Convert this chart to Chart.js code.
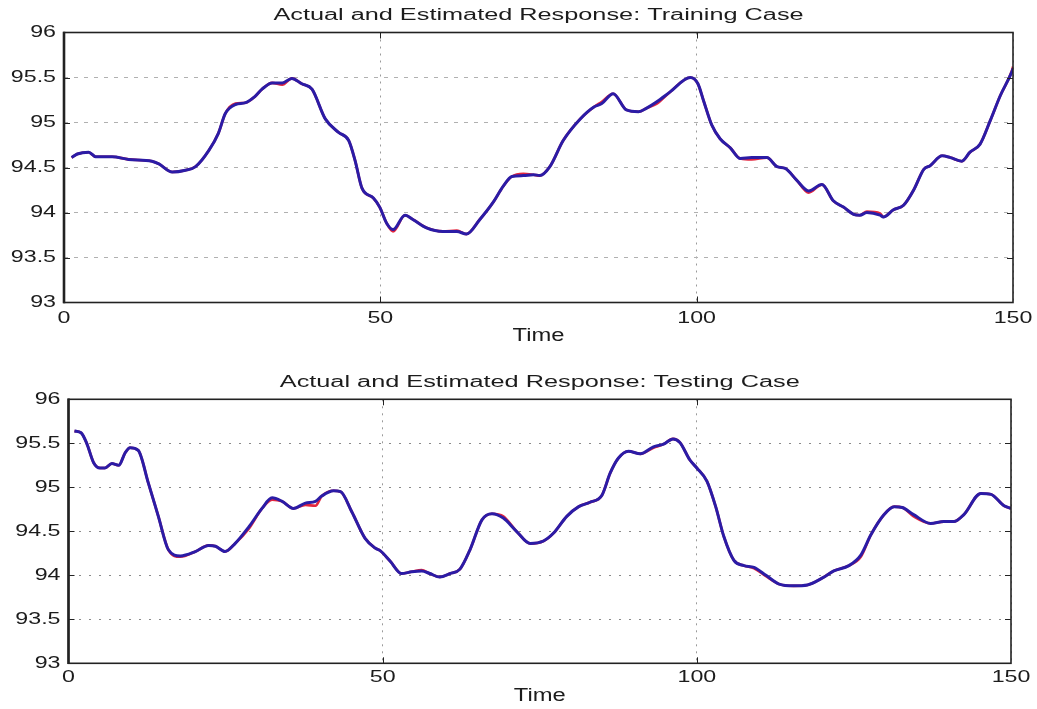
<!DOCTYPE html>
<html>
<head>
<meta charset="utf-8">
<title>Actual and Estimated Response</title>
<script src="https://cdn.jsdelivr.net/npm/chart.js@4.4.1/dist/chart.umd.min.js"></script>
<style>
  html, body { margin: 0; padding: 0; background: #fff; }
  .panel { position: absolute; left: 0; width: 1037px; }
  #top-panel { top: 0; height: 355px; }
  #bottom-panel { top: 355px; height: 354px; }
</style>
</head>
<body>
<div class="panel" id="top-panel"><canvas id="trainChart" width="1037" height="355"></canvas></div>
<div class="panel" id="bottom-panel"><canvas id="testChart" width="1037" height="354"></canvas></div>
<script>
// --- axis ticks ---
const xTicks = [0, 50, 100, 150];
const yTicks = [93, 93.5, 94, 94.5, 95, 95.5, 96];
const yTickLabels = ['93', '93.5', '94', '94.5', '95', '95.5', '96'];

// --- training case ---
const trainTime = [1.2, 2.1, 3.9, 5.0, 7.6, 10.2, 13.9, 15.0, 17.1, 19.2, 20.8, 22.9, 24.4, 25.5, 27.1, 28.7,
  30.2, 31.3, 32.9, 34.5, 36.0, 37.6, 39.2, 41.3, 43.4, 45.0, 46.0, 47.1, 48.9, 49.9, 51.0, 52.0, 53.9, 55.2,
  57.3, 59.9, 62.1, 63.6, 65.7, 67.9, 69.4, 70.8, 72.6, 74.2, 75.2, 76.8, 78.9, 81.6, 83.7, 85.0, 86.8, 88.9,
  90.8, 92.1, 93.7, 95.8, 99.0, 100.2, 101.1, 102.4, 103.7, 105.3, 106.9, 108.7, 111.1, 112.7, 114.0, 115.8,
  117.7, 119.8, 121.6, 123.2, 124.8, 125.8, 126.9, 129.0, 129.5, 131.1, 132.7, 134.3, 135.9, 136.9, 138.8,
  140.1, 141.9, 143.2, 144.8, 146.4, 148.0, 149.8, 150.0];
const trainActual = [94.61, 94.65, 94.67, 94.62, 94.62, 94.59, 94.57, 94.54, 94.45, 94.47, 94.51, 94.69, 94.88, 95.10, 95.21, 95.22,
  95.29, 95.37, 95.44, 95.42, 95.49, 95.43, 95.37, 95.04, 94.89, 94.80, 94.58, 94.27, 94.16, 94.06, 93.88, 93.79, 93.97, 93.92,
  93.83, 93.79, 93.80, 93.76, 93.92, 94.12, 94.29, 94.40, 94.43, 94.42, 94.41, 94.51, 94.80, 95.04, 95.17, 95.23, 95.32, 95.14,
  95.12, 95.16, 95.21, 95.34, 95.50, 95.43, 95.24, 94.97, 94.82, 94.72, 94.60, 94.59, 94.61, 94.51, 94.49, 94.36,
  94.22, 94.31, 94.13, 94.06, 93.98, 93.97, 94.01, 93.99, 93.95, 94.03, 94.08, 94.25, 94.48, 94.52, 94.63,
  94.61, 94.57, 94.67, 94.76, 95.02, 95.30, 95.57, 95.62];
const trainEstimated = [94.61, 94.65, 94.67, 94.62, 94.62, 94.59, 94.57, 94.54, 94.45, 94.47, 94.51, 94.69, 94.88, 95.10, 95.20, 95.22,
  95.29, 95.37, 95.44, 95.44, 95.49, 95.43, 95.37, 95.04, 94.89, 94.80, 94.58, 94.27, 94.16, 94.06, 93.88, 93.81, 93.97, 93.92,
  93.83, 93.79, 93.79, 93.76, 93.92, 94.12, 94.29, 94.40, 94.41, 94.42, 94.41, 94.51, 94.80, 95.04, 95.17, 95.21, 95.32, 95.14,
  95.12, 95.16, 95.23, 95.34, 95.50, 95.43, 95.24, 94.97, 94.82, 94.72, 94.60, 94.61, 94.61, 94.51, 94.49, 94.36,
  94.24, 94.31, 94.13, 94.06, 93.98, 93.97, 94.00, 93.97, 93.95, 94.03, 94.08, 94.25, 94.48, 94.52, 94.63,
  94.61, 94.57, 94.67, 94.76, 95.02, 95.30, 95.56, 95.60];

// --- testing case ---
const testTime = [0.95, 2.0, 2.9, 4.0, 5.0, 5.8, 6.9, 8.0, 9.0, 9.8, 11.1, 12.7, 14.3, 15.9, 17.8, 20.2, 22.3, 23.4,
  24.9, 26.5, 28.7, 30.8, 32.4, 34.0, 35.8, 37.7, 39.3, 40.3, 42.2, 43.3, 45.1, 47.2, 48.8, 49.6, 51.2, 53.0,
  54.6, 56.2, 57.5, 59.1, 60.7, 62.3, 63.9, 65.8, 67.4, 69.2, 71.3, 73.5, 75.6, 77.2, 79.3, 81.2, 83.0, 84.9,
  86.2, 87.5, 89.1, 91.0, 93.1, 94.7, 96.2, 97.3, 98.9, 100.0, 101.6, 103.0, 104.3, 105.9, 107.5, 109.1, 111.0,
  113.1, 115.4, 117.6, 120.0, 121.8, 124.2, 126.1, 127.7, 129.8, 131.4, 132.7, 134.5, 137.2, 139.3, 140.9,
  142.5, 145.2, 146.8, 148.9, 150.0];
const testActual = [95.64, 95.62, 95.50, 95.28, 95.22, 95.22, 95.27, 95.25, 95.39, 95.45, 95.42, 95.05, 94.67, 94.29, 94.21, 94.27, 94.34, 94.33,
  94.27, 94.36, 94.53, 94.76, 94.86, 94.84, 94.76, 94.80, 94.79, 94.90, 94.96, 94.95, 94.72, 94.42, 94.31, 94.28, 94.16, 94.02,
  94.04, 94.06, 94.02, 93.98, 94.02, 94.07, 94.29, 94.63, 94.70, 94.67, 94.50, 94.36, 94.39, 94.48, 94.67, 94.78, 94.83, 94.91,
  95.16, 95.33, 95.41, 95.38, 95.45, 95.49, 95.55, 95.51, 95.31, 95.22, 95.07, 94.78, 94.44, 94.17, 94.11, 94.08, 93.99,
  93.90, 93.88, 93.89, 93.97, 94.05, 94.11, 94.21, 94.46, 94.69, 94.78, 94.77, 94.67, 94.59, 94.61, 94.61,
  94.69, 94.93, 94.92, 94.79, 94.76];
const testEstimated = [95.64, 95.62, 95.50, 95.28, 95.22, 95.22, 95.27, 95.25, 95.39, 95.45, 95.42, 95.05, 94.67, 94.29, 94.22, 94.27, 94.34, 94.33,
  94.27, 94.36, 94.55, 94.76, 94.88, 94.84, 94.76, 94.82, 94.84, 94.90, 94.96, 94.95, 94.72, 94.42, 94.31, 94.28, 94.16, 94.02,
  94.04, 94.05, 94.02, 93.98, 94.02, 94.07, 94.29, 94.63, 94.70, 94.65, 94.50, 94.36, 94.39, 94.48, 94.67, 94.78, 94.83, 94.91,
  95.16, 95.33, 95.41, 95.38, 95.46, 95.49, 95.55, 95.51, 95.31, 95.22, 95.07, 94.78, 94.44, 94.17, 94.11, 94.09, 94.00,
  93.90, 93.88, 93.89, 93.97, 94.05, 94.11, 94.23, 94.46, 94.69, 94.78, 94.77, 94.69, 94.59, 94.61, 94.61,
  94.69, 94.93, 94.92, 94.79, 94.76];

const TEXT_COLOR = '#1c1c1c';
const FONT_FAMILY = '"Liberation Sans", Arial, Helvetica, sans-serif';

// text in this figure is drawn a little wider than the font's natural shape
function wideText(ctx, str, x, y, align, size, stretch) {
  ctx.save();
  ctx.font = size + 'px ' + FONT_FAMILY;
  const w = ctx.measureText(str).width * stretch;
  let left = x;
  if (align === 'center') left = x - w / 2;
  else if (align === 'right') left = x - w;
  ctx.translate(left, y);
  ctx.scale(stretch, 1);
  ctx.fillStyle = TEXT_COLOR;
  ctx.textAlign = 'left';
  ctx.textBaseline = 'middle';
  ctx.fillText(str, 0, 0);
  ctx.restore();
}

// box, inward tick marks, tick labels and titles
const boxedAxes = {
  id: 'boxedAxes',
  afterDraw(chart, args, opts) {
    const ctx = chart.ctx;
    const ca = chart.chartArea;
    const xs = chart.scales.x;
    const ys = chart.scales.y;

    ctx.save();
    ctx.strokeStyle = '#222';
    ctx.lineWidth = 1;
    ctx.beginPath();
    xTicks.slice(1, -1).forEach(v => {
      const px = Math.round(xs.getPixelForValue(v)) + 0.5;
      ctx.moveTo(px, ca.bottom); ctx.lineTo(px, ca.bottom - 6);
      ctx.moveTo(px, ca.top); ctx.lineTo(px, ca.top + 6);
    });
    yTicks.slice(1, -1).forEach(v => {
      const py = Math.round(ys.getPixelForValue(v)) + 0.5;
      ctx.moveTo(ca.left, py); ctx.lineTo(ca.left + 6, py);
      ctx.moveTo(ca.right, py); ctx.lineTo(ca.right - 6, py);
    });
    ctx.stroke();

    ctx.lineWidth = 1.6;
    ctx.strokeRect(ca.left, ca.top, ca.right - ca.left, ca.bottom - ca.top);
    ctx.lineWidth = 2.6;
    ctx.beginPath();
    ctx.moveTo(ca.left, ca.top - 0.8);
    ctx.lineTo(ca.left, ca.bottom + 0.8);
    ctx.stroke();
    ctx.restore();

    yTicks.forEach((v, i) => {
      wideText(ctx, yTickLabels[i], ca.left - 8, ys.getPixelForValue(v), 'right', 16, 1.45);
    });
    xTicks.forEach(v => {
      wideText(ctx, String(v), xs.getPixelForValue(v), ca.bottom + opts.tickGap, 'center', 16, 1.45);
    });
    const mid = (ca.left + ca.right) / 2;
    wideText(ctx, opts.xTitle, mid, ca.bottom + opts.xTitleGap, 'center', 18, 1.32);
    wideText(ctx, opts.title, mid, ca.top - 17, 'center', 16, 1.58);
  }
};

function buildChart(canvasId, time, actual, estimated, cfg) {
  const toPoints = vals => vals.map((v, i) => ({ x: time[i], y: v }));
  return new Chart(document.getElementById(canvasId), {
    type: 'line',
    data: {
      datasets: [
        {
          label: 'Actual',
          data: toPoints(actual),
          borderColor: '#e3263e',
          borderWidth: 2.6,
          pointRadius: 0,
          cubicInterpolationMode: 'monotone',
          order: 2
        },
        {
          label: 'Estimated',
          data: toPoints(estimated),
          borderColor: '#2b1ca6',
          borderWidth: 3,
          pointRadius: 0,
          cubicInterpolationMode: 'monotone',
          order: 1
        }
      ]
    },
    options: {
      responsive: false,
      animation: false,
      devicePixelRatio: 1,
      layout: { padding: cfg.padding },
      plugins: {
        legend: { display: false },
        tooltip: { enabled: false },
        boxedAxes: cfg
      },
      scales: {
        x: {
          type: 'linear',
          min: 0,
          max: 150,
          afterBuildTicks: s => { s.ticks = xTicks.map(v => ({ value: v })); },
          afterFit: s => { s.height = 0; },
          ticks: { display: false },
          grid: { color: '#9a9a9a', lineWidth: 1, drawTicks: false },
          border: { display: false, dash: [2, 5] }
        },
        y: {
          type: 'linear',
          min: 93,
          max: 96,
          afterBuildTicks: s => { s.ticks = yTicks.map(v => ({ value: v })); },
          afterFit: s => { s.width = 0; },
          ticks: { display: false },
          grid: { color: cfg.gridColor, lineWidth: 1, drawTicks: false },
          border: { display: false, dash: cfg.gridDash }
        }
      }
    },
    plugins: [boxedAxes]
  });
}

buildChart('trainChart', trainTime, trainActual, trainEstimated, {
  title: 'Actual and Estimated Response: Training Case',
  xTitle: 'Time',
  padding: { left: 64, right: 24, top: 32.5, bottom: 52.5 },
  tickGap: 16,
  xTitleGap: 34,
  gridColor: '#b0b0b0',
  gridDash: [4, 6]
});

buildChart('testChart', testTime, testActual, testEstimated, {
  title: 'Actual and Estimated Response: Testing Case',
  xTitle: 'Time',
  padding: { left: 68.5, right: 26, top: 44.3, bottom: 45.7 },
  tickGap: 14,
  xTitleGap: 33,
  gridColor: '#8a8a8a',
  gridDash: [2, 8]
});
</script>
</body>
</html>
